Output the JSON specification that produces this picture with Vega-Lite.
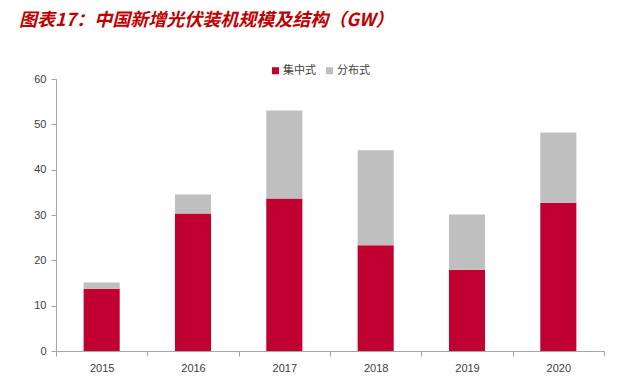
{
  "$schema": "https://vega.github.io/schema/vega-lite/v6.json",
  "width": 548,
  "height": 272,
  "autosize": {"type": "none"},
  "padding": {"left": 56, "top": 79, "right": 40, "bottom": 31},
  "background": "white",
  "title": {
    "text": "图表17：中国新增光伏装机规模及结构（GW）",
    "anchor": "start",
    "frame": "group",
    "dx": -37,
    "offset": 35,
    "font": "Noto Sans CJK SC",
    "fontSize": 18,
    "fontWeight": "bold",
    "fontStyle": "italic",
    "color": "#C00000"
  },
  "data": {
    "values": [
      {"year": "2015", "type": "集中式", "value": 13.74, "ord": 1},
      {"year": "2015", "type": "分布式", "value": 1.39, "ord": 2},
      {"year": "2016", "type": "集中式", "value": 30.31, "ord": 1},
      {"year": "2016", "type": "分布式", "value": 4.23, "ord": 2},
      {"year": "2017", "type": "集中式", "value": 33.62, "ord": 1},
      {"year": "2017", "type": "分布式", "value": 19.44, "ord": 2},
      {"year": "2018", "type": "集中式", "value": 23.3, "ord": 1},
      {"year": "2018", "type": "分布式", "value": 20.96, "ord": 2},
      {"year": "2019", "type": "集中式", "value": 17.91, "ord": 1},
      {"year": "2019", "type": "分布式", "value": 12.19, "ord": 2},
      {"year": "2020", "type": "集中式", "value": 32.68, "ord": 1},
      {"year": "2020", "type": "分布式", "value": 15.52, "ord": 2}
    ]
  },
  "mark": {"type": "bar", "width": {"band": 0.395}},
  "encoding": {
    "x": {
      "field": "year",
      "type": "nominal",
      "scale": {"paddingInner": 0, "paddingOuter": 0},
      "axis": {
        "title": null,
        "labelAngle": 0,
        "tickBand": "extent",
        "labelFont": "Liberation Sans",
        "labelFontSize": 11,
        "labelColor": "#404040",
        "labelPadding": 6,
        "domainColor": "#A6A6A6",
        "tickColor": "#A6A6A6",
        "tickSize": 5
      }
    },
    "y": {
      "field": "value",
      "type": "quantitative",
      "stack": "zero",
      "scale": {"domain": [0, 60], "nice": false},
      "axis": {
        "title": null,
        "values": [0, 10, 20, 30, 40, 50, 60],
        "grid": false,
        "labelFont": "Liberation Sans",
        "labelFontSize": 11,
        "labelColor": "#404040",
        "labelPadding": 5,
        "domainColor": "#A6A6A6",
        "tickColor": "#A6A6A6",
        "tickSize": 5
      }
    },
    "color": {
      "field": "type",
      "type": "nominal",
      "scale": {"domain": ["集中式", "分布式"], "range": ["#C00030", "#BFBFBF"]},
      "legend": {
        "title": null,
        "orient": "none",
        "legendX": 214,
        "legendY": -14,
        "direction": "horizontal",
        "symbolType": "square",
        "symbolSize": 50,
        "symbolStrokeWidth": 0,
        "labelFont": "Noto Sans CJK SC",
        "labelFontSize": 11,
        "labelColor": "#404040",
        "columnPadding": 8,
        "labelOffset": 2
      }
    },
    "order": {"field": "ord", "type": "quantitative"}
  },
  "config": {"view": {"stroke": null}}
}
